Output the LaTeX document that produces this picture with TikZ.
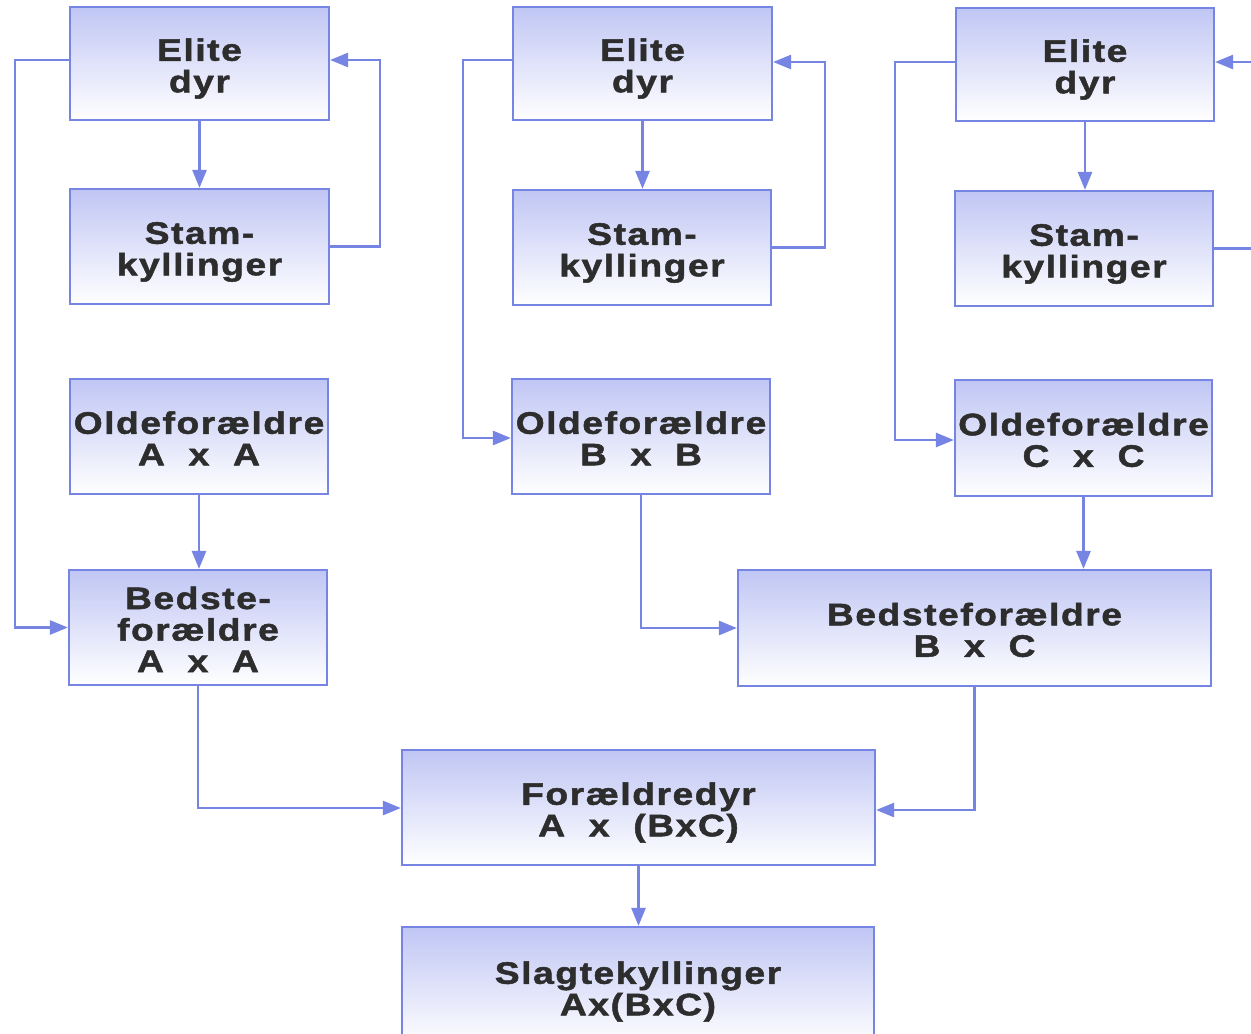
\documentclass[tikz,border=0pt]{standalone}
\usepackage{fontspec}
\usetikzlibrary{arrows.meta}
\newfontfamily\boxfont{Liberation Sans Bold}[FakeStretch=1.2, LetterSpace=5, FakeBold=1.6]
\newcommand\topstrut{\rule{0pt}{33pt}}
\newcommand\botstrut{\rule[-7pt]{0pt}{7pt}}
\definecolor{linec}{RGB}{118,132,228}
\definecolor{boxtop}{RGB}{192,198,244}
\definecolor{textc}{RGB}{45,45,45}
\begin{document}
\begin{tikzpicture}[x=1pt,y=-1pt,
  box/.style={draw=linec, line width=2.2pt, top color=boxtop, bottom color=white,
    inner sep=0pt, align=center, text=textc,
    font=\boxfont\fontsize{31}{31.5}\selectfont},
  conn/.style={draw=linec, line width=2.6pt, -{Triangle[length=18pt,width=14pt]}}]
\useasboundingbox (0,0) rectangle (1251,1034);
\clip (0,0) rectangle (1251,1034);
\fill[white] (0,0) rectangle (1251,1034);
% column A
\node[box, minimum width=259pt, minimum height=113pt] (e1) at (199.5,63.5) {\topstrut Elite\\dyr\botstrut};
\node[box, minimum width=259pt, minimum height=115pt] (s1) at (199.5,246.5) {\topstrut Stam-\\kyllinger\botstrut};
\node[box, minimum width=258pt, minimum height=115pt] (o1) at (199,436.5) {\topstrut Oldeforældre\\A\ \ x\ \ A\botstrut};
\node[box, minimum width=258pt, minimum height=115pt] (b1) at (198,627.5) {\topstrut Bedste-\\forældre\\A\ \ x\ \ A\botstrut};
% column B
\node[box, minimum width=259pt, minimum height=113pt] (e2) at (642.5,63.5) {\topstrut Elite\\dyr\botstrut};
\node[box, minimum width=258pt, minimum height=115pt] (s2) at (642,247.5) {\topstrut Stam-\\kyllinger\botstrut};
\node[box, minimum width=258pt, minimum height=115pt] (o2) at (641,436.5) {\topstrut Oldeforældre\\B\ \ x\ \ B\botstrut};
% column C
\node[box, minimum width=258pt, minimum height=113pt] (e3) at (1085,64.5) {\topstrut Elite\\dyr\botstrut};
\node[box, minimum width=258pt, minimum height=115pt] (s3) at (1084,248.5) {\topstrut Stam-\\kyllinger\botstrut};
\node[box, minimum width=257pt, minimum height=116pt] (o3) at (1083.5,438) {\topstrut Oldeforældre\\C\ \ x\ \ C\botstrut};
% lower boxes
\node[box, minimum width=473pt, minimum height=116pt] (bbc) at (974.5,628) {\topstrut Bedsteforældre\\B\ \ x\ \ C\botstrut};
\node[box, minimum width=473pt, minimum height=115pt] (f) at (638.5,807.5) {\topstrut Forældredyr\\A\ \ x\ \ (BxC)\botstrut};
\node[box, minimum width=472pt, minimum height=119pt] (sl) at (638,986.5) {\topstrut Slagtekyllinger\\Ax(BxC)\botstrut};
% connectors column A
\draw[conn] (e1.south) -- (e1.south |- s1.north);
\draw[conn] (s1.east) -| (380,60) -- (e1.east |- 0,60);
\draw[conn] (e1.west |- 0,60) -| (15,627.5) -- (b1.west);
\draw[conn] (o1.south) -- (o1.south |- b1.north);
% column B
\draw[conn] (e2.south) -- (e2.south |- s2.north);
\draw[conn] (s2.east) -| (825,62) -- (e2.east |- 0,62);
\draw[conn] (e2.west |- 0,60) -| (463,438) -- (o2.west |- 0,438);
\draw[conn] (o2.south) |- (bbc.west);
% column C
\draw[conn] (e3.south) -- (e3.south |- s3.north);
\draw[conn] (s3.east) -| (1256,62) -- (e3.east |- 0,62);
\draw[conn] (e3.west |- 0,62) -| (895,440) -- (o3.west |- 0,440);
\draw[conn] (o3.south) -- (o3.south |- bbc.north);
% bottom
\draw[conn] (bbc.south) |- (f.east |- 0,810);
\draw[conn] (b1.south) |- (f.west |- 0,808);
\draw[conn] (f.south) -- (f.south |- sl.north);
\end{tikzpicture}
\end{document}
